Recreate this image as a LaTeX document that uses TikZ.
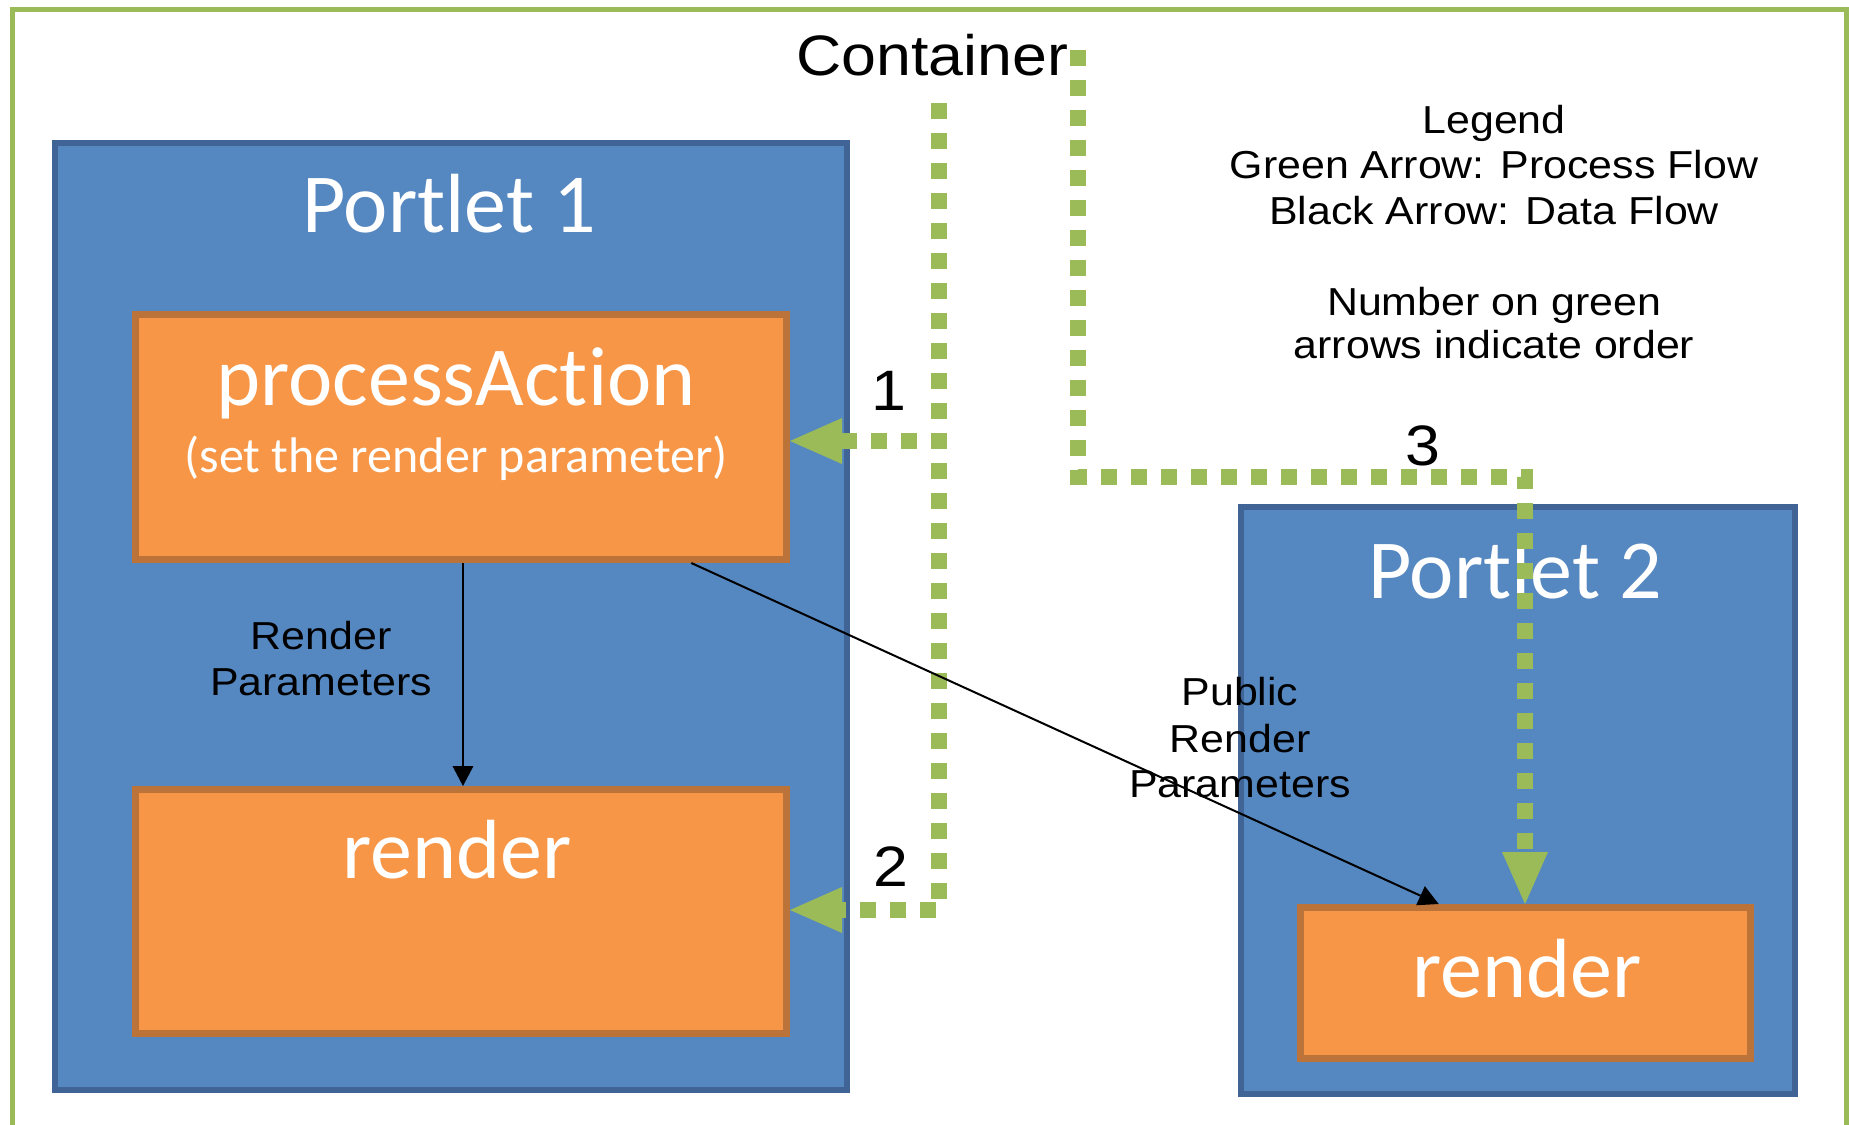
\documentclass[tikz,border=0pt]{standalone}
\usepackage{fontspec}
\setmainfont{Liberation Sans}
\newfontfamily\calfont[Ligatures={NoCommon,NoContextual}]{Carlito}
\newfontfamily\arfont[FakeStretch=1.1]{Liberation Sans}
\usetikzlibrary{arrows.meta,calc}
\definecolor{cgreen}{HTML}{9BBB59}
\definecolor{bfill}{RGB}{85,135,192}
\definecolor{bborder}{RGB}{64,100,150}
\definecolor{ofill}{HTML}{F79646}
\definecolor{oborder}{RGB}{187,115,58}
\tikzset{
  portlet/.style={draw=bborder, fill=bfill, line width=6pt, inner sep=0pt, anchor=north west},
  obox/.style={draw=oborder, fill=ofill, line width=7pt, inner sep=0pt, anchor=north west},
  wbig/.style={text=white, font=\calfont\fontsize{84}{100}\selectfont, anchor=base, inner sep=0pt},
  wsmall/.style={text=white, font=\calfont\fontsize{50}{60}\selectfont, anchor=base, inner sep=0pt},
  btext/.style={text=black, font=\arfont\fontsize{39}{46}\selectfont, anchor=base, inner sep=0pt},
  bbig/.style={text=black, font=\arfont\fontsize{57}{68}\selectfont, anchor=base, inner sep=0pt},
  gflow/.style={draw=cgreen, line width=16pt, dash pattern=on 16pt off 14pt,
    -{Triangle[length=52pt,width=46pt,line width=0pt]}},
  dataflow/.style={draw=black, line width=2pt, -{Triangle[length=20pt,width=21pt,line width=0pt]}}
}
\begin{document}
\begin{tikzpicture}[x=1pt,y=-1pt]
\useasboundingbox (0,0) rectangle (1849,1124);
% container frame
\draw[cgreen, line width=5pt] (12,10) rectangle (1846,1160);
% portlets
\node[portlet, minimum width=792pt, minimum height=947pt] (p1) at (52,140) {};
\node[portlet, minimum width=554pt, minimum height=587pt] (p2) at (1238,504) {};
% orange boxes
\node[obox, minimum width=651pt, minimum height=245pt] (pa) at (132,311) {};
\node[obox, minimum width=651pt, minimum height=244pt] (r1) at (132,786) {};
\node[obox, minimum width=450pt, minimum height=151pt] (r2) at (1297,904) {};
% white texts
\node[wbig] (p1t) at (449,232) {Portlet 1};
\node[wbig] (p2t) at (1515,598) {Portlet 2};
\node[wbig] (pat) at (456,405) {processAct\kern0pt ion};
\node[wsmall] (pas) at (456,472) {(set the render parameter)};
\node[wbig] (r1t) at (457,878) {render};
\node[wbig] (r2t) at (1527,997) {render};
% green process flow
\coordinate (g1) at (939,103);
\coordinate (gj) at (939,441);
\coordinate (g2c) at (939,910);
\coordinate (g3s) at (1078,50);
\coordinate (g3a) at (1078,477);
\coordinate (g3b) at (1525,477);
\draw[gflow] (g1) -- (gj) -- (gj -| pa.east);
\draw[gflow] (g1) -- (g2c) -- (g2c -| r1.east);
\draw[gflow] (g3s) -- (g3a) -- (g3b) -- (g3b |- r2.north);
% black data flow
\draw[dataflow] ($(pa.south west)!0.503!(pa.south east)$) -- ($(r1.north west)!0.503!(r1.north east)$);
\draw[dataflow] ($(pa.south west)!0.85!(pa.south east)$) -- ($(r2.north west)!0.31!(r2.north east)$);
% black texts
\node[bbig] (cont) at (932,75) {Container};
\node[bbig] (n1) at (889,410) {1};
\node[bbig] (n2) at (891,886) {2};
\node[bbig] (n3) at (1423,465) {3};
\node[btext] (lg1) at (1494,133) {Legend};
\node[btext] (lg2) at (1494,178) {Green Arrow: Process Flow};
\node[btext] (lg3) at (1494,224) {Black Arrow: Data Flow};
\node[btext] (lg4) at (1494,315) {Number on green};
\node[btext] (lg5) at (1494,358) {arrows indicate order};
\node[btext] (rp1) at (321,649) {Render};
\node[btext] (rp2) at (321,695) {Parameters};
\node[btext] (pr1) at (1240,705) {Public};
\node[btext] (pr2) at (1240,752) {Render};
\node[btext] (pr3) at (1240,797) {Parameters};
\end{tikzpicture}
\end{document}
